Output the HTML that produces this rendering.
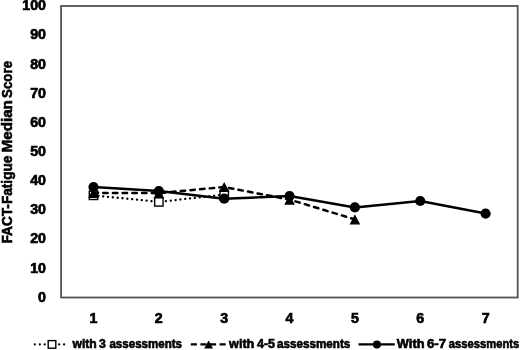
<!DOCTYPE html><html><head><meta charset="utf-8"><style>html,body{margin:0;padding:0;background:#fff;width:520px;height:350px;overflow:hidden}svg{display:block;will-change:transform}text{font-family:"Liberation Sans",sans-serif;font-weight:bold;fill:#000;stroke:#000}.t{stroke-width:0.6px}.n{stroke-width:0.7px}</style></head><body>
<svg width="520" height="350" viewBox="0 0 520 350">
<rect x="0" y="0" width="520" height="350" fill="#fff"/>
<rect x="61.1" y="6.0" width="456.6" height="291.5" fill="none" stroke="#525252" stroke-width="1.8"/>
<text class="n" x="46" y="301.7" font-size="14.2" text-anchor="end">0</text>
<text class="n" x="46" y="272.6" font-size="14.2" text-anchor="end">10</text>
<text class="n" x="46" y="243.4" font-size="14.2" text-anchor="end">20</text>
<text class="n" x="46" y="214.2" font-size="14.2" text-anchor="end">30</text>
<text class="n" x="46" y="185.1" font-size="14.2" text-anchor="end">40</text>
<text class="n" x="46" y="155.9" font-size="14.2" text-anchor="end">50</text>
<text class="n" x="46" y="126.8" font-size="14.2" text-anchor="end">60</text>
<text class="n" x="46" y="97.6" font-size="14.2" text-anchor="end">70</text>
<text class="n" x="46" y="68.5" font-size="14.2" text-anchor="end">80</text>
<text class="n" x="46" y="39.3" font-size="14.2" text-anchor="end">90</text>
<text class="n" x="46" y="10.2" font-size="14.2" text-anchor="end">100</text>
<text class="n" x="93.5" y="323.2" font-size="14.2" text-anchor="middle">1</text>
<text class="n" x="158.8" y="323.2" font-size="14.2" text-anchor="middle">2</text>
<text class="n" x="224.2" y="323.2" font-size="14.2" text-anchor="middle">3</text>
<text class="n" x="289.5" y="323.2" font-size="14.2" text-anchor="middle">4</text>
<text class="n" x="354.9" y="323.2" font-size="14.2" text-anchor="middle">5</text>
<text class="n" x="420.2" y="323.2" font-size="14.2" text-anchor="middle">6</text>
<text class="n" x="485.6" y="323.2" font-size="14.2" text-anchor="middle">7</text>
<text class="t" font-size="15.5" transform="translate(12.40 243.52) rotate(-90) scale(0.8809 1)">FACT-Fatigue</text>
<text class="t" font-size="15.5" transform="translate(12.40 152.43) rotate(-90) scale(0.9801 1)">Median</text>
<text class="t" font-size="15.5" transform="translate(12.40 97.90) rotate(-90) scale(0.8578 1)">Score</text>
<polyline points="93.50,195.33 158.85,201.89 224.20,194.60" fill="none" stroke="#000" stroke-width="2.3" stroke-dasharray="0.1 4.75" stroke-linecap="round"/>
<rect x="89.30" y="191.13" width="8.4" height="8.4" fill="#fff" stroke="#000" stroke-width="1.4"/>
<rect x="154.65" y="197.69" width="8.4" height="8.4" fill="#fff" stroke="#000" stroke-width="1.4"/>
<rect x="220.00" y="190.40" width="8.4" height="8.4" fill="#fff" stroke="#000" stroke-width="1.4"/>
<polyline points="93.50,192.85 158.85,193.14 224.20,187.02 289.55,199.56 354.90,219.38" fill="none" stroke="#000" stroke-width="2.5" stroke-dasharray="4.5 5.2" stroke-linecap="round"/>
<polygon points="93.50,187.75 98.80,197.95 88.20,197.95" fill="#000"/>
<polygon points="158.85,188.04 164.15,198.24 153.55,198.24" fill="#000"/>
<polygon points="224.20,181.92 229.50,192.12 218.90,192.12" fill="#000"/>
<polygon points="289.55,194.46 294.85,204.66 284.25,204.66" fill="#000"/>
<polygon points="354.90,214.28 360.20,224.48 349.60,224.48" fill="#000"/>
<polyline points="93.50,187.02 158.85,191.10 224.20,198.68 289.55,196.06 354.90,207.43 420.25,201.01 485.60,213.55" fill="none" stroke="#000" stroke-width="2.5" stroke-linejoin="round"/>
<circle cx="93.50" cy="187.02" r="5.1" fill="#000"/>
<circle cx="158.85" cy="191.10" r="5.1" fill="#000"/>
<circle cx="224.20" cy="198.68" r="5.1" fill="#000"/>
<circle cx="289.55" cy="196.06" r="5.1" fill="#000"/>
<circle cx="354.90" cy="207.43" r="5.1" fill="#000"/>
<circle cx="420.25" cy="201.01" r="5.1" fill="#000"/>
<circle cx="485.60" cy="213.55" r="5.1" fill="#000"/>
<line x1="34.8" y1="344.4" x2="47" y2="344.4" stroke="#000" stroke-width="2.1" stroke-dasharray="0.1 4.85" stroke-linecap="round"/>
<line x1="59.1" y1="344.4" x2="66" y2="344.4" stroke="#000" stroke-width="2.1" stroke-dasharray="0.1 4.85" stroke-linecap="round"/>
<rect x="48.2" y="340.59999999999997" width="7.6" height="7.6" fill="#fff" stroke="#000" stroke-width="1.4"/>
<text class="t" font-size="12.0" transform="translate(72.43 347.70) scale(1.0137 1)">with</text>
<text class="t" font-size="12.0" transform="translate(99.12 347.70) scale(1.0218 1)">3</text>
<text class="t" font-size="12.0" transform="translate(109.45 347.70) scale(0.9631 1)">assessments</text>
<line x1="190.8" y1="344.4" x2="226" y2="344.4" stroke="#000" stroke-width="2.4" stroke-dasharray="6.1 3.5"/>
<polygon points="208.6,340.5 213,348.5 204.2,348.5" fill="#000"/>
<text class="t" font-size="12.0" transform="translate(229.03 347.70) scale(1.0567 1)">with</text>
<text class="t" font-size="12.0" transform="translate(256.91 347.70) scale(1.0517 1)">4-5</text>
<text class="t" font-size="12.0" transform="translate(277.05 347.70) scale(0.9725 1)">assessments</text>
<line x1="358.5" y1="344.4" x2="394.8" y2="344.4" stroke="#000" stroke-width="2.3"/>
<circle cx="376.9" cy="344.4" r="4.0" fill="#000"/>
<text class="t" font-size="12.0" transform="translate(396.87 347.70) scale(1.0673 1)">With</text>
<text class="t" font-size="12.0" transform="translate(426.90 347.70) scale(1.1050 1)">6-7</text>
<text class="t" font-size="12.0" transform="translate(448.86 347.70) scale(0.9349 1)">assessments</text>
</svg></body></html>
